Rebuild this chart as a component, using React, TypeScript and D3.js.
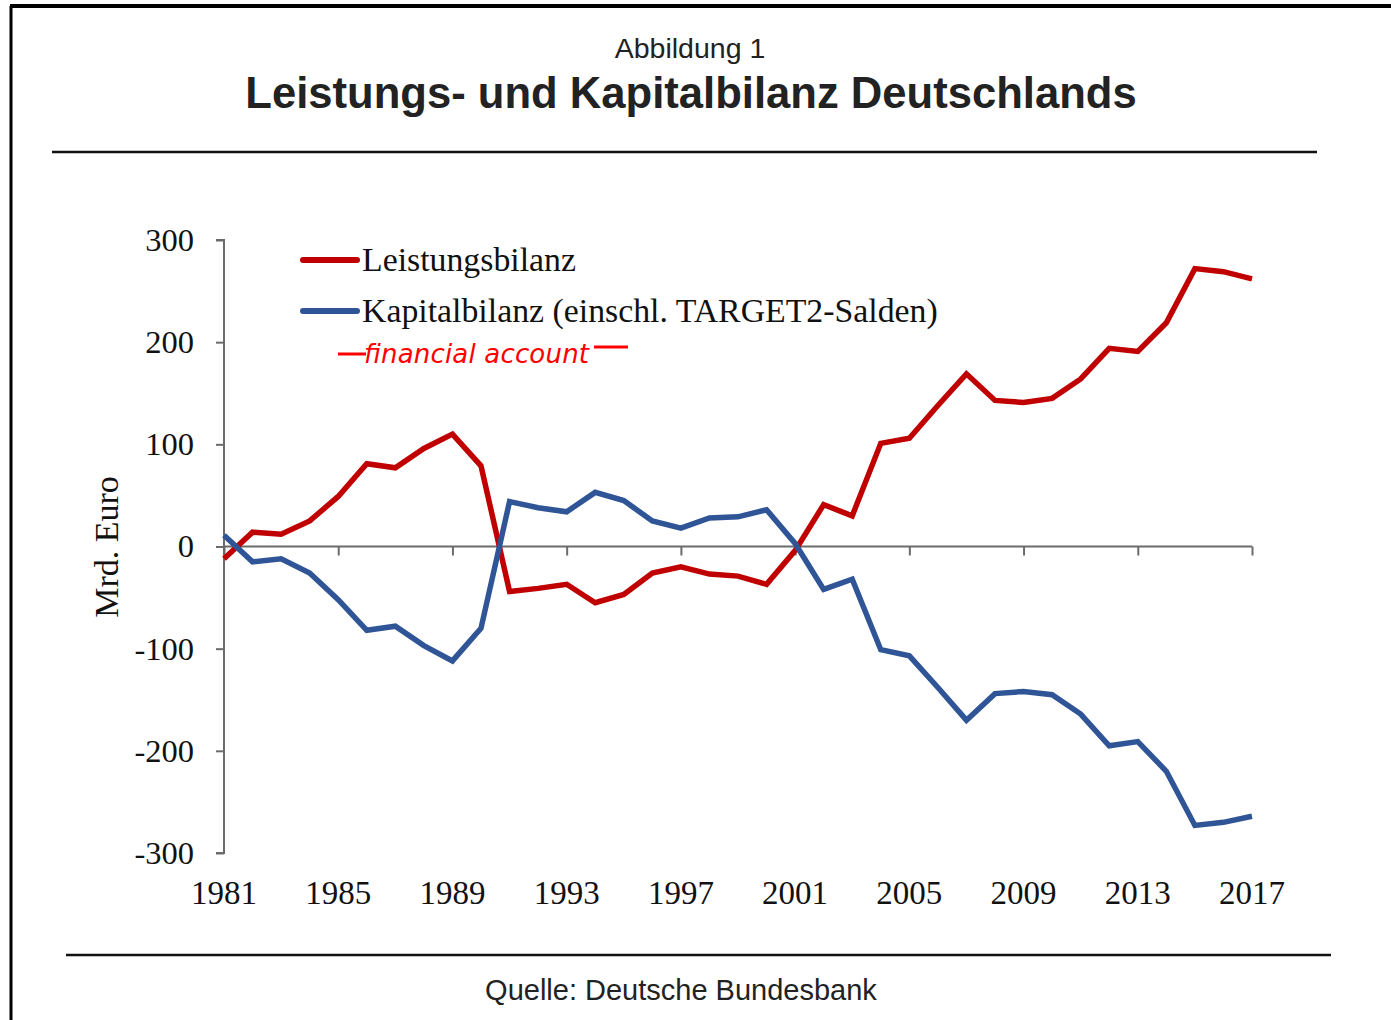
import { useEffect, useRef } from "react";
import * as d3 from "d3";

const years = d3.range(1981, 2018);
// Leistungsbilanz (Mrd. Euro)
const leistungsbilanz = [
  -12, 14, 12, 25, 49, 81, 77, 96, 110, 79,
  -44, -41, -37, -55, -47, -26, -20, -27, -29, -37,
  -4, 41, 30, 101, 106, 138, 169, 143, 141, 145,
  164, 194, 191, 219, 272, 269, 262,
];
// Kapitalbilanz (einschl. TARGET2-Salden)
const kapitalbilanz = [
  11, -15, -12, -26, -52, -82, -78, -97, -112, -80,
  44, 38, 34, 53, 45, 25, 18, 28, 29, 36,
  3, -42, -32, -101, -107, -138, -170, -144, -142, -145,
  -164, -195, -191, -220, -273, -270, -264,
];
const xTickYears = [1981, 1985, 1989, 1993, 1997, 2001, 2005, 2009, 2013, 2017];
const yTicks = [300, 200, 100, 0, -100, -200, -300];
const seriesNames = ["Leistungsbilanz", "Kapitalbilanz (einschl. TARGET2-Salden)"];
const seriesColors = ["#c00000", "#2f5597"];

export default function App() {
  const ref = useRef<SVGSVGElement>(null);

  useEffect(() => {
    const svg = d3.select(ref.current);
    svg.selectAll("*").remove();

    const W = 1391, H = 1020;
    const x = d3.scaleLinear().domain([1981, 2017]).range([224, 1252]);
    const y = d3.scaleLinear().domain([-300, 300]).range([853, 240]);
    const serif = "'Liberation Serif', 'Times New Roman', serif";
    const sans = "'Liberation Sans', Arial, sans-serif";

    svg.append("rect").attr("width", W).attr("height", H).attr("fill", "#fff");

    // frame (top + left)
    svg.append("line").attr("x1", 10).attr("x2", W).attr("y1", 6).attr("y2", 6)
      .attr("stroke", "#000").attr("stroke-width", 4);
    svg.append("line").attr("x1", 11).attr("x2", 11).attr("y1", 6).attr("y2", H)
      .attr("stroke", "#000").attr("stroke-width", 3);

    // header
    svg.append("text").attr("x", 690).attr("y", 58).attr("text-anchor", "middle")
      .attr("font-family", sans).attr("font-size", 28.5).attr("fill", "#222")
      .text("Abbildung 1");
    svg.append("text").attr("x", 691).attr("y", 108).attr("text-anchor", "middle")
      .attr("font-family", sans).attr("font-size", 43.6).attr("font-weight", "bold").attr("fill", "#222")
      .text("Leistungs- und Kapitalbilanz Deutschlands");
    svg.append("line").attr("x1", 52).attr("x2", 1317).attr("y1", 152).attr("y2", 152)
      .attr("stroke", "#111").attr("stroke-width", 2.5);

    // footer
    svg.append("line").attr("x1", 66).attr("x2", 1331).attr("y1", 955).attr("y2", 955)
      .attr("stroke", "#111").attr("stroke-width", 2.5);
    svg.append("text").attr("x", 681).attr("y", 1000).attr("text-anchor", "middle")
      .attr("font-family", sans).attr("font-size", 29).attr("fill", "#222")
      .text("Quelle: Deutsche Bundesbank");

    const axisColor = "#6b6b6b";

    // y axis
    const yAxis = svg.append("g").attr("transform", `translate(${x(1981)},0)`)
      .call(d3.axisLeft(y).tickValues(yTicks).tickSize(8).tickPadding(22)
        .tickFormat(d => String(d)));
    yAxis.select(".domain").attr("stroke", axisColor).attr("stroke-width", 2)
      .attr("d", `M-8,${y(300)}H0V${y(-300)}H-8`);
    yAxis.selectAll(".tick line").attr("stroke", axisColor).attr("stroke-width", 2);
    yAxis.selectAll(".tick text").attr("font-family", serif).attr("font-size", 32.5)
      .attr("fill", "#111").attr("dy", "0.32em");

    // x axis at zero
    const xAxis = svg.append("g").attr("transform", `translate(0,${y(0)})`)
      .call(d3.axisBottom(x).tickValues(xTickYears).tickSize(9).tickFormat(() => ""));
    xAxis.select(".domain").attr("stroke", axisColor).attr("stroke-width", 2)
      .attr("d", `M${x(1981)},0H${x(2017)}`);
    xAxis.selectAll(".tick line").attr("stroke", axisColor).attr("stroke-width", 2);

    // year labels at bottom
    svg.append("g").selectAll("text").data(xTickYears).join("text")
      .attr("x", d => x(d)).attr("y", 904).attr("text-anchor", "middle")
      .attr("font-family", serif).attr("font-size", 33).attr("fill", "#111")
      .text(d => String(d));

    // y axis title
    svg.append("text").attr("transform", "translate(118,547) rotate(-90)")
      .attr("text-anchor", "middle").attr("font-family", serif).attr("font-size", 34).attr("fill", "#111")
      .text("Mrd. Euro");

    // lines
    const line = d3.line<number>().x((_, i) => x(years[i])).y(d => y(d));
    [leistungsbilanz, kapitalbilanz].forEach((vals, i) => {
      svg.append("path").datum(vals).attr("d", line).attr("fill", "none")
        .attr("stroke", seriesColors[i]).attr("stroke-width", 5.5)
        .attr("stroke-linejoin", "miter");
    });

    // legend
    const legend = svg.append("g");
    seriesNames.forEach((name, i) => {
      const ly = 260 + i * 51;
      legend.append("line").attr("x1", 303).attr("x2", 357).attr("y1", ly).attr("y2", ly)
        .attr("stroke", seriesColors[i]).attr("stroke-width", 6).attr("stroke-linecap", "round");
      legend.append("text").attr("x", 362).attr("y", ly + 11)
        .attr("font-family", serif).attr("font-size", 33.8).attr("fill", "#111")
        .text(name);
    });

    // handwritten note
    svg.append("line").attr("x1", 338).attr("x2", 366).attr("y1", 354).attr("y2", 354)
      .attr("stroke", "#ff0000").attr("stroke-width", 3);
    svg.append("text").attr("x", 364).attr("y", 363)
      .attr("font-family", "'DejaVu Sans', sans-serif").attr("font-style", "italic")
      .attr("font-size", 26).attr("fill", "#ff0000").attr("textLength", 225)
      .text("financial account");
    svg.append("line").attr("x1", 594).attr("x2", 628).attr("y1", 347).attr("y2", 347)
      .attr("stroke", "#ff0000").attr("stroke-width", 3);
  }, []);

  return (
    <svg ref={ref} width={1391} height={1020}
      style={{ position: "absolute", left: 0, top: 0, display: "block" }} />
  );
}
